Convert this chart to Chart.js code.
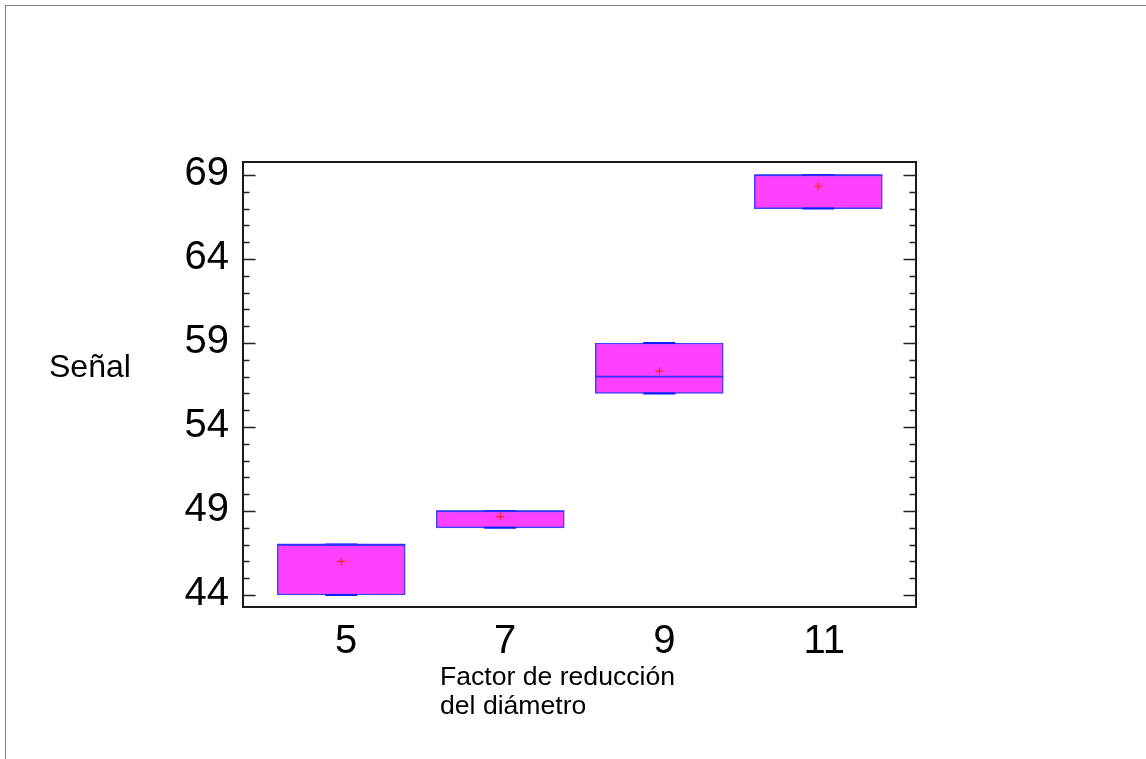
<!DOCTYPE html>
<html>
<head>
<meta charset="utf-8">
<title>Señal por factor de reducción del diámetro</title>
<script src="https://cdn.jsdelivr.net/npm/chart.js@4.4.1/dist/chart.umd.min.js"></script>
<style>
  html, body { margin: 0; padding: 0; background: #fff; }
  #wrap { position: relative; width: 1146px; height: 759px; overflow: hidden; }
  #frame { position: absolute; left: 5px; top: 5px; width: 1200px; height: 800px;
           border-top: 1px solid #858585; border-left: 1px solid #858585; pointer-events: none; }
  canvas { position: absolute; left: 0; top: 0; }
</style>
</head>
<body>
<div id="wrap">
  <canvas id="chart" width="1146" height="759"></canvas>
  <div id="frame"></div>
</div>
<script>
// Factor de reducción del diámetro (groups on the x axis)
const factors = [5, 7, 9, 11];
// Box summary per group
const lowerQuartile = [44, 48, 56, 67];
const upperQuartile = [47, 49, 59, 69];
const medians      = [47, 49, 57, 69];
const minimums     = [44, 48, 56, 67];
const maximums     = [47, 49, 59, 69];
const means        = [46, 48.67, 57.33, 68.33];
// Axis tick labels
const yTickLabels = [44, 49, 54, 59, 64, 69];
const xTickLabels = ['5', '7', '9', '11'];
const yMinorStep = 1;

const FONT = '"Liberation Sans", Arial, sans-serif';

function drawText(ctx, text, x, y, size, align) {
  ctx.save();
  ctx.font = size + 'px ' + FONT;
  ctx.fillStyle = '#000';
  ctx.textAlign = align;
  ctx.textBaseline = 'alphabetic';
  ctx.fillText(text, x, y);
  ctx.restore();
}

// Frame, inward tick marks and labels drawn from the chart's own scales
const axesPlugin = {
  id: 'boxAxes',
  afterDraw(chart) {
    const { ctx, chartArea: a, scales: { x, y } } = chart;
    ctx.save();
    ctx.strokeStyle = '#1a1a1a';
    ctx.lineWidth = 2;
    ctx.strokeRect(a.left, a.top, a.right - a.left, a.bottom - a.top);

    ctx.lineWidth = 1.5;
    ctx.strokeStyle = '#222';
    for (const t of y.ticks) {
      const py = Math.round(y.getPixelForValue(t.value)) + 0.5;
      const len = yTickLabels.includes(t.value) ? 12.5 : 6.5;
      ctx.beginPath();
      ctx.moveTo(a.left, py); ctx.lineTo(a.left + len, py);
      ctx.moveTo(a.right, py); ctx.lineTo(a.right - len, py);
      ctx.stroke();
    }
    ctx.restore();

    for (const v of yTickLabels) {
      drawText(ctx, String(v), a.left - 14, y.getPixelForValue(v) + 10, 40, 'right');
    }
    factors.forEach((f, i) => {
      const shift = xTickLabels[i].length > 1 ? 6 : 5;
      drawText(ctx, xTickLabels[i], x.getPixelForValue(f) + shift, 653, 40, 'center');
    });

    drawText(ctx, 'Señal', 49, 377, 32, 'left');
    drawText(ctx, 'Factor de reducción', 440, 685, 26.6, 'left');
    drawText(ctx, 'del diámetro', 440, 714, 26.6, 'left');
  }
};

const yMinor = [];
for (let v = 44; v <= 69; v += yMinorStep) yMinor.push(v);

new Chart(document.getElementById('chart'), {
  type: 'bar',
  data: {
    datasets: [
      {
        type: 'scatter',
        label: 'Media',
        order: 0,
        data: factors.map((f, i) => ({ x: f, y: means[i] })),
        pointStyle: 'cross',
        radius: 4,
        borderColor: '#ff2020',
        borderWidth: 1.2
      },
      {
        type: 'scatter',
        label: 'Mediana',
        order: 1,
        data: factors.map((f, i) => ({ x: f, y: medians[i] })),
        pointStyle: 'line',
        radius: 64,
        borderColor: '#3030ff',
        borderWidth: 1.6
      },
      {
        type: 'scatter',
        label: 'Extremos',
        order: 2,
        data: factors.flatMap((f, i) => [{ x: f, y: minimums[i] }, { x: f, y: maximums[i] }]),
        pointStyle: 'line',
        radius: 16,
        borderColor: '#0a1eff',
        borderWidth: 2
      },
      {
        type: 'bar',
        label: 'Caja',
        order: 3,
        data: factors.map((f, i) => ({ x: f, y: [lowerQuartile[i], upperQuartile[i]] })),
        backgroundColor: '#ff40ff',
        borderColor: '#4040ff',
        borderWidth: 1.5,
        borderSkipped: false,
        barThickness: 128,
        grouped: false
      }
    ]
  },
  options: {
    responsive: false,
    animation: false,
    events: [],
    layout: { padding: { left: 243, top: 162, right: 230, bottom: 152 } },
    plugins: { legend: { display: false }, tooltip: { enabled: false }, title: { display: false } },
    scales: {
      x: {
        type: 'linear',
        display: false,
        min: 3.765,
        max: 12.229,
        offset: false
      },
      y: {
        type: 'linear',
        display: false,
        min: 43.286,
        max: 69.774,
        afterBuildTicks: s => { s.ticks = yMinor.map(v => ({ value: v })); }
      }
    }
  },
  plugins: [axesPlugin]
});
</script>
</body>
</html>
